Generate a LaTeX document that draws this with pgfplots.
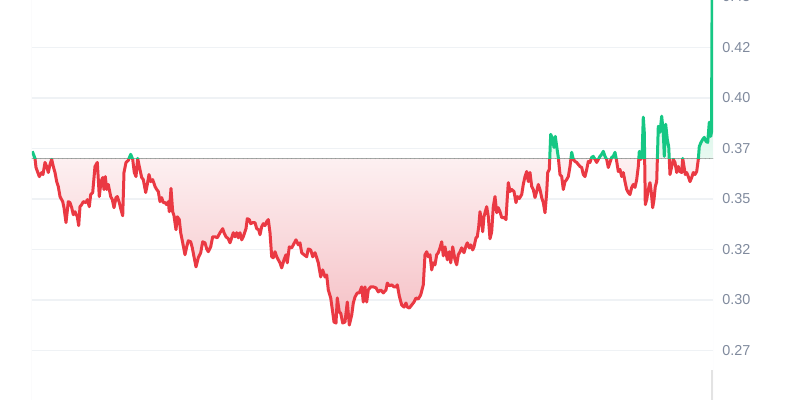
\documentclass[border=0pt]{standalone}
\usepackage{fontspec}
\setmainfont{Liberation Sans}
\usepackage{pgfplots}
\usepackage{pgfplotstable}
\pgfplotsset{compat=1.18}
\usepgfplotslibrary{fillbetween}
\tikzset{fill between/on layer=main}
\definecolor{upgreen}{RGB}{22,199,132}
\definecolor{downred}{RGB}{234,57,67}
\definecolor{gridc}{RGB}{239,242,245}
\definecolor{labc}{RGB}{128,138,157}
\definecolor{rdark}{RGB}{245,192,197}
\definecolor{rlight}{RGB}{253,240,241}
\definecolor{gdark}{RGB}{205,243,226}
\definecolor{glight}{RGB}{232,249,241}
\definecolor{dotc}{RGB}{150,150,150}
\pgfdeclareverticalshading{redfade}{100bp}{color(0bp)=(rdark); color(25bp)=(rdark); color(47.6bp)=(rlight); color(100bp)=(rlight)}
\pgfdeclareverticalshading{greenfade}{100bp}{color(0bp)=(glight); color(47.6bp)=(glight); color(60bp)=(gdark); color(100bp)=(gdark)}
\pgfplotstableread{
x v
32.3 0.3736
35 0.3701
36 0.3656
39.3 0.3611
41.7 0.3631
43 0.3621
45 0.3681
46.7 0.3661
48.3 0.3631
50 0.3671
51.7 0.3696
53.3 0.3661
55 0.3631
56.7 0.3586
58.3 0.3562
60 0.3512
62.7 0.3487
64 0.3457
66 0.3383
68.3 0.3487
70 0.3482
71.7 0.3457
73.3 0.3422
75 0.3437
77.3 0.3412
78.7 0.3368
80 0.3462
81.7 0.3472
83.3 0.3487
86 0.3482
87.3 0.3497
89.3 0.3462
90.7 0.3522
92.7 0.3532
95 0.3661
97.3 0.3681
99.3 0.3512
101 0.3586
102.7 0.3606
104 0.3547
105.3 0.3611
106.7 0.3547
108.3 0.3572
110.7 0.3512
112.3 0.3497
114 0.3457
116 0.3507
117.3 0.3512
119.3 0.3482
121 0.3447
122.7 0.3417
124 0.3631
126 0.3681
128.3 0.3691
130.7 0.3721
132.7 0.3696
134.3 0.3631
136 0.3611
137.7 0.3701
139.3 0.3661
141.7 0.3606
143.3 0.3596
145.7 0.3532
147.3 0.3572
149 0.3621
150.7 0.3586
152.7 0.3596
155 0.3562
156.7 0.3547
158.3 0.3537
160 0.3487
161.7 0.3507
163.3 0.3482
165 0.3482
166.7 0.3472
168.3 0.3487
169.3 0.3437
171 0.3552
172.7 0.3437
174 0.3417
176 0.3348
177.3 0.3412
179.3 0.3398
180.7 0.3333
182.7 0.3283
185 0.3224
186.7 0.3263
188.3 0.3293
190.7 0.3288
192.3 0.3258
194 0.3214
196 0.3164
198.3 0.3209
200.7 0.3234
202.7 0.3288
205 0.3283
206.7 0.3253
208.3 0.3239
210.7 0.3263
212.7 0.3313
215 0.3313
217.3 0.3308
220 0.3333
222.7 0.3353
224 0.3333
226 0.3313
228.3 0.3303
230 0.3283
231.7 0.3308
233.3 0.3333
235 0.3313
236.7 0.3333
238.3 0.3308
240 0.3333
241.7 0.3298
243.3 0.3313
246 0.3353
247.3 0.3403
249.3 0.3398
250.7 0.3378
252.7 0.3383
255 0.3383
256.7 0.3353
258.7 0.3348
260 0.3323
261.7 0.3363
263.3 0.3378
265 0.3368
266.7 0.3388
268.3 0.3398
270 0.3333
271.7 0.3214
273.3 0.3209
275 0.3239
276.7 0.3214
278.3 0.3199
280 0.3184
281.7 0.3159
284 0.3199
286 0.3224
287.3 0.3184
289.3 0.3263
291.7 0.3258
293.3 0.3273
296 0.3298
298.3 0.3273
300 0.3283
301.7 0.3234
304 0.3224
306.7 0.3214
308.3 0.3253
310.7 0.3248
312.7 0.3214
315 0.3234
316.7 0.3209
318.3 0.3184
320.7 0.3114
322.7 0.3149
325 0.3114
326.7 0.3124
328.3 0.3050
330.7 0.3010
332.7 0.2940
334 0.2891
336 0.2886
337.3 0.3010
339.3 0.2940
340.7 0.2935
342.7 0.2886
345 0.2891
347.3 0.2990
349.3 0.2876
351.7 0.2925
353.3 0.2985
355 0.3015
357.3 0.3035
359.3 0.3035
361.7 0.3065
363.3 0.2990
365 0.3065
366.7 0.2990
368.3 0.3050
370.7 0.3065
373.3 0.3065
376 0.3060
378.3 0.3040
380.7 0.3050
383.3 0.3035
386 0.3050
387.3 0.3084
389.3 0.3070
391.7 0.3075
394 0.3065
396 0.3065
397.3 0.3075
399.3 0.3020
401.7 0.2975
404 0.2965
406 0.2985
407.3 0.2965
409.3 0.2960
411.7 0.2975
414 0.2990
416 0.3010
418.3 0.3005
420.7 0.3025
423.3 0.3075
425 0.3224
426.7 0.3239
428.3 0.3214
430 0.3224
431.7 0.3149
433.3 0.3184
435 0.3174
436.7 0.3224
438.3 0.3234
440 0.3258
441.7 0.3288
443.3 0.3219
445 0.3263
447.3 0.3199
449.3 0.3239
450.7 0.3184
452.7 0.3263
455 0.3199
456.7 0.3174
458.3 0.3224
460 0.3239
461.7 0.3258
464 0.3234
466 0.3268
467.3 0.3283
469.3 0.3258
470.7 0.3273
472.7 0.3248
474 0.3263
476 0.3308
477.3 0.3313
478.7 0.3363
480 0.3437
481.7 0.3388
482.7 0.3338
484 0.3412
485 0.3432
486.7 0.3462
488.3 0.3412
490 0.3303
491.7 0.3338
493.3 0.3462
495 0.3512
496.7 0.3432
498.3 0.3457
500 0.3437
501.7 0.3408
504 0.3408
506 0.3398
507.3 0.3507
508.3 0.3581
510 0.3537
511.7 0.3547
514 0.3537
516 0.3482
517.3 0.3512
519.3 0.3502
521.7 0.3522
523.3 0.3572
525 0.3611
526.7 0.3636
528.3 0.3586
530 0.3631
531.7 0.3562
533.3 0.3547
535 0.3507
536.7 0.3537
538.3 0.3572
540 0.3547
541.7 0.3507
543.3 0.3482
545 0.3432
546.7 0.3532
547.7 0.3631
549.3 0.3646
550.7 0.3820
552.7 0.3795
554 0.3755
555.3 0.3810
556.7 0.3760
558.3 0.3706
560 0.3621
561.7 0.3611
563.3 0.3547
565 0.3586
566.7 0.3596
568.3 0.3611
570 0.3661
571.7 0.3731
573.3 0.3696
575 0.3686
576.7 0.3681
578.3 0.3671
580 0.3661
581.7 0.3656
583.3 0.3621
585 0.3611
586.7 0.3646
588.3 0.3686
590 0.3681
591.7 0.3706
593.3 0.3711
595 0.3696
596.7 0.3681
598.3 0.3696
600 0.3711
601.7 0.3721
603.3 0.3736
605 0.3711
606.7 0.3696
608.3 0.3656
610 0.3681
611.7 0.3706
613.3 0.3711
615 0.3731
616.7 0.3686
618.3 0.3636
620 0.3646
621.7 0.3611
623.3 0.3631
625 0.3586
626.7 0.3547
628.3 0.3532
630 0.3522
631.7 0.3557
633.3 0.3572
635 0.3557
636.7 0.3596
638.3 0.3661
639.3 0.3736
640.7 0.3696
642 0.3706
643.3 0.3905
644.3 0.3830
645.3 0.3472
646.7 0.3497
648.3 0.3547
650 0.3581
651.3 0.3532
652.7 0.3457
654 0.3497
655.3 0.3562
656.7 0.3586
658.3 0.3860
660 0.3830
661.7 0.3910
663.3 0.3830
664.3 0.3711
665.7 0.3870
667.3 0.3795
668.7 0.3760
670 0.3621
671.7 0.3661
673.3 0.3696
675 0.3681
676.7 0.3631
678.3 0.3661
680 0.3636
681.7 0.3631
682.7 0.3701
684 0.3661
685.3 0.3621
686.7 0.3631
688.3 0.3611
690 0.3586
691.7 0.3606
693.3 0.3631
695 0.3621
696.7 0.3636
698.3 0.3696
699.3 0.3760
701 0.3780
702.7 0.3795
704.3 0.3805
706 0.3785
707.7 0.3780
709.3 0.3880
710.7 0.3810
711.5 0.3830
712.3 0.4700
}\pricedata
\begin{document}
\begin{tikzpicture}
\begin{axis}[
  scale only axis,
  width=340.5pt, height=211.6pt,
  xmin=32, xmax=713,
  ymin=0.2505, ymax=0.46,
  axis line style={draw=none},
  xtick=\empty,
  ytick={0.275,0.300,0.325,0.350,0.375,0.400,0.425,0.450},
  yticklabels={0.27,0.30,0.32,0.35,0.37,0.40,0.42,0.45},
  ytick pos=right,
  major tick length=0pt,
  yticklabel style={font=\fontsize{7.2}{8}\selectfont, text=labc, anchor=west, inner sep=0pt, xshift=4.5pt},
  ymajorgrids,
  grid style={draw=gridc, line width=0.55pt},
]
\addplot[name path=price, draw=none, forget plot] table[x=x,y=v] {\pricedata};
\path[name path=base] (axis cs:32,0.370) -- (axis cs:713,0.370);
\begin{scope}
\clip (axis cs:0,0.2) rectangle (axis cs:800,0.370);
\addplot[shade, shading=redfade, draw=none] fill between[of=price and base];
\end{scope}
\begin{scope}
\clip (axis cs:0,0.370) rectangle (axis cs:800,0.6);
\addplot[shade, shading=greenfade, draw=none] fill between[of=price and base];
\end{scope}
\draw[gridc!70!gray!60, line width=0.5pt] (rel axis cs:0,0) -- (rel axis cs:0,1);
\draw[gridc, line width=0.5pt] (rel axis cs:1,0) -- (rel axis cs:1,1);
\fill[gray!22] (axis cs:711.2,0.2505) rectangle (axis cs:712.8,0.2655);
\draw[dotc, line width=0.5pt, line cap=round, dash pattern=on 0pt off 2.2pt] (axis cs:32,0.370) -- (axis cs:713,0.370);
\begin{scope}
\clip (axis cs:0,0.2) rectangle (axis cs:800,0.370);
\addplot[draw=downred, line width=1.5pt, line join=round] table[x=x,y=v] {\pricedata};
\end{scope}
\begin{scope}
\clip (axis cs:0,0.370) rectangle (axis cs:800,0.6);
\addplot[draw=upgreen, line width=1.5pt, line join=round] table[x=x,y=v] {\pricedata};
\end{scope}
\end{axis}
\pgfresetboundingbox
\useasboundingbox (-16pt,0pt) rectangle (384pt,200pt);
\end{tikzpicture}
\end{document}
